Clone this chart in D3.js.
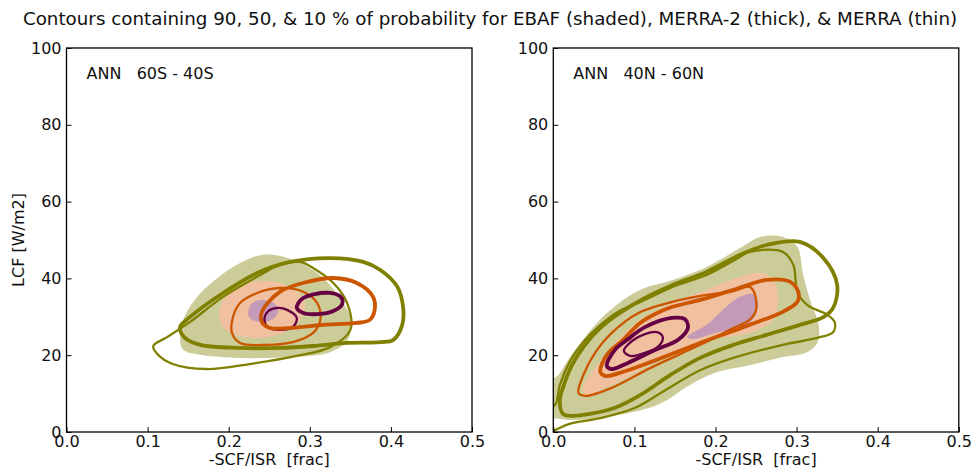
<!DOCTYPE html>
<html><head><meta charset="utf-8">
<script src="https://cdn.jsdelivr.net/npm/d3@7/dist/d3.min.js"></script>
<style>
body{margin:0;background:#fff;}
text{font-family:"DejaVu Sans",sans-serif;fill:#111;}
</style></head>
<body><svg id="chart" width="977" height="471"></svg>
<script>
const title = "Contours containing 90, 50, & 10 % of probability for EBAF (shaded), MERRA-2 (thick), & MERRA (thin)";
const xTicks = [0.0, 0.1, 0.2, 0.3, 0.4, 0.5];
const yTicks = [0, 20, 40, 60, 80, 100];
const panelLabels = ["ANN   60S - 40S", "ANN   40N - 60N"];
const xLabel = "-SCF/ISR  [frac]";
const yLabel = "LCF [W/m2]";

// ---- Left panel (60S - 40S) ----
const L_ebaf90 = [[0.140,24.0],[0.144,29.2],[0.158,34.4],[0.183,39.6],[0.214,44.0],[0.241,46.1],[0.269,45.6],[0.294,43.5],[0.319,39.6],[0.337,34.9],[0.350,29.7],[0.347,24.0],[0.325,20.8],[0.276,19.5],[0.214,19.3],[0.165,20.1],[0.144,21.4]];
const L_ebaf50 = [[0.188,30.5],[0.195,34.9],[0.214,38.3],[0.239,39.3],[0.263,38.8],[0.285,36.5],[0.294,33.1],[0.288,29.2],[0.269,26.0],[0.239,24.5],[0.208,25.3],[0.192,27.6]];
const L_ebaf10 = [[0.224,31.3],[0.229,33.6],[0.241,34.4],[0.256,33.6],[0.261,31.3],[0.253,29.2],[0.239,28.6],[0.226,29.7]];
const L_m2_90 = [[0.140,27.3],[0.152,29.9],[0.193,36.2],[0.235,41.4],[0.276,44.3],[0.325,45.3],[0.366,44.3],[0.387,42.2],[0.408,37.8],[0.415,32.6],[0.414,27.9],[0.403,24.0],[0.387,23.4],[0.346,23.2],[0.304,22.4],[0.263,21.9],[0.214,21.9],[0.165,22.7],[0.146,24.5]];
const L_m2_50 = [[0.241,31.3],[0.263,36.5],[0.297,39.1],[0.329,40.1],[0.358,38.8],[0.378,35.2],[0.380,31.8],[0.374,29.2],[0.358,28.4],[0.316,27.9],[0.276,27.1],[0.251,27.1],[0.241,28.6]];
const L_m2_10 = [[0.284,32.3],[0.290,34.6],[0.306,35.9],[0.325,36.2],[0.338,35.2],[0.340,33.3],[0.329,31.5],[0.310,30.7],[0.292,31.0]];
const L_m_90 = [[0.107,22.4],[0.124,24.7],[0.152,28.6],[0.193,35.2],[0.235,40.4],[0.263,43.5],[0.288,44.3],[0.304,42.7],[0.329,38.8],[0.346,33.6],[0.350,26.6],[0.325,22.1],[0.284,19.8],[0.226,17.7],[0.173,16.4],[0.131,17.7],[0.112,20.3]];
const L_m_50 = [[0.214,33.6],[0.235,36.2],[0.263,37.5],[0.292,36.5],[0.309,33.6],[0.313,29.2],[0.304,25.8],[0.279,23.4],[0.247,22.7],[0.214,23.2],[0.204,25.8],[0.205,29.7]];
const L_m_10 = [[0.244,29.2],[0.248,31.3],[0.260,32.3],[0.272,31.8],[0.284,29.7],[0.279,27.3],[0.263,26.6],[0.248,27.3]];

// ---- Right panel (40N - 60N) ----
const R_ebaf90 = [[-0.016,13.5],[0.002,14.1],[0.024,20.6],[0.066,31.0],[0.107,37.0],[0.147,39.6],[0.189,43.0],[0.234,48.4],[0.255,50.8],[0.283,50.8],[0.301,48.2],[0.308,41.1],[0.317,34.1],[0.327,28.1],[0.326,23.4],[0.313,20.8],[0.283,19.5],[0.242,17.4],[0.202,15.6],[0.168,12.2],[0.128,7.0],[0.066,3.9],[0.024,3.1],[0.002,3.6],[-0.016,3.6]];
const R_ebaf50 = [[0.036,10.9],[0.066,20.6],[0.107,29.2],[0.147,33.6],[0.189,37.0],[0.230,40.4],[0.256,41.4],[0.271,39.8],[0.277,34.4],[0.271,29.2],[0.242,25.8],[0.189,24.0],[0.147,20.6],[0.107,16.1],[0.066,11.7],[0.042,9.6]];
const R_ebaf10 = [[0.165,24.7],[0.189,27.9],[0.209,31.8],[0.230,35.2],[0.246,35.9],[0.252,33.6],[0.248,29.9],[0.236,27.6],[0.200,25.8],[0.172,24.2]];
const R_m2_90 = [[0.012,4.7],[0.008,8.3],[0.013,12.2],[0.023,17.4],[0.038,22.4],[0.058,27.1],[0.082,31.0],[0.113,34.9],[0.147,38.3],[0.189,41.7],[0.230,46.1],[0.263,48.7],[0.304,49.5],[0.333,45.3],[0.350,38.3],[0.345,32.3],[0.333,29.9],[0.304,27.9],[0.263,25.3],[0.222,22.7],[0.181,19.3],[0.144,14.8],[0.107,9.6],[0.076,6.3],[0.045,4.7],[0.023,4.2]];
const R_m2_50 = [[0.058,15.6],[0.066,20.1],[0.086,24.0],[0.107,28.4],[0.128,31.0],[0.147,32.6],[0.181,34.4],[0.222,37.0],[0.263,39.6],[0.292,39.1],[0.302,36.5],[0.301,33.9],[0.283,31.3],[0.242,27.9],[0.181,23.2],[0.120,18.2],[0.082,15.4],[0.064,14.6]];
const R_m2_10 = [[0.066,17.2],[0.076,21.4],[0.091,24.0],[0.113,27.3],[0.146,29.7],[0.162,29.4],[0.166,27.1],[0.154,24.0],[0.126,21.4],[0.092,18.0],[0.072,16.4]];
const R_m_90 = [[-0.016,5.2],[0.002,7.0],[0.008,12.2],[0.020,18.2],[0.036,23.2],[0.055,27.3],[0.080,31.3],[0.113,34.4],[0.147,37.8],[0.189,40.9],[0.224,44.8],[0.242,46.9],[0.283,46.9],[0.296,43.5],[0.301,36.5],[0.313,33.1],[0.338,30.5],[0.347,28.6],[0.345,26.0],[0.325,24.5],[0.283,22.7],[0.222,19.3],[0.181,16.1],[0.138,10.9],[0.101,6.3],[0.058,3.6],[0.020,2.1],[0.002,0.5],[-0.010,-0.5],[-0.020,2.0]];
const R_m_50 = [[0.031,10.2],[0.037,14.8],[0.052,20.8],[0.072,25.8],[0.105,31.0],[0.147,33.9],[0.181,35.4],[0.222,36.7],[0.242,37.8],[0.248,36.2],[0.250,31.8],[0.242,29.2],[0.222,27.1],[0.181,22.7],[0.120,16.7],[0.072,11.5],[0.039,9.4]];
const R_m_10 = [[0.087,21.1],[0.097,23.7],[0.113,25.5],[0.128,26.0],[0.135,24.7],[0.130,22.4],[0.113,20.6],[0.095,19.8]];

const panelsData = [
  {label: panelLabels[0], ebaf: [L_ebaf90, L_ebaf50, L_ebaf10], m2: [L_m2_90, L_m2_50, L_m2_10], m: [L_m_90, L_m_50, L_m_10]},
  {label: panelLabels[1], ebaf: [R_ebaf90, R_ebaf50, R_ebaf10], m2: [R_m2_90, R_m2_50, R_m2_10], m: [R_m_90, R_m_50, R_m_10]}
];

const fillColors = ["#cccc99", "#f0c0a0", "#c39bb8"];
const lineColors = ["#808000", "#cc5500", "#660044"];

const svg = d3.select("#chart");
const W = 405.5, H = 384;
const offsets = [[66.5, 48], [553.3, 48]];
const FS = "16px";

svg.append("text").attr("x", 490).attr("y", 25).attr("text-anchor", "middle")
  .style("font-size", "18.3px").text(title);

panelsData.forEach((p, i) => {
  const g = svg.append("g").attr("transform", `translate(${offsets[i][0]},${offsets[i][1]})`);
  const x = d3.scaleLinear().domain([0, 0.5]).range([0, W]);
  const y = d3.scaleLinear().domain([0, 100]).range([H, 0]);
  const clipId = "clip" + i;
  g.append("clipPath").attr("id", clipId).append("rect").attr("width", W).attr("height", H);
  const line = d3.line().x(d => x(d[0])).y(d => y(d[1])).curve(d3.curveCatmullRomClosed.alpha(0.5));
  const plot = g.append("g").attr("clip-path", `url(#${clipId})`);
  p.ebaf.forEach((c, k) => {
    plot.append("path").attr("d", line(c)).attr("fill", fillColors[k]).attr("stroke", "none");
  });
  p.m.forEach((c, k) => {
    plot.append("path").attr("d", line(c)).attr("fill", "none").attr("stroke", lineColors[k]).attr("stroke-width", 2.3);
  });
  p.m2.forEach((c, k) => {
    plot.append("path").attr("d", line(c)).attr("fill", "none").attr("stroke", lineColors[k]).attr("stroke-width", 3.8);
  });
  // axes (ticks inward)
  const xAxis = d3.axisBottom(x).tickValues(xTicks).tickFormat(d3.format(".1f")).tickSizeInner(-5).tickSizeOuter(0);
  const yAxis = d3.axisLeft(y).tickValues(yTicks).tickFormat(d3.format("d")).tickSizeInner(-5).tickSizeOuter(0);
  const gx = g.append("g").attr("transform", `translate(0,${H})`).call(xAxis);
  const gy = g.append("g").call(yAxis);
  [gx, gy].forEach(a => {
    a.select(".domain").remove();
    a.selectAll("line").attr("stroke", "#000").attr("stroke-width", 1);
    a.selectAll("text").style("font-size", FS).style("font-family", "DejaVu Sans, sans-serif").attr("fill", "#111");
  });
  gy.selectAll("text").attr("x", -5);
  gx.selectAll("text").attr("y", 4);
  g.append("rect").attr("width", W).attr("height", H).attr("fill", "none").attr("stroke", "#000").attr("stroke-width", 1.3);
  g.append("text").attr("x", 20).attr("y", 31).style("font-size", FS).style("white-space", "pre").text(p.label);
  g.append("text").attr("x", W / 2).attr("y", H + 33).attr("text-anchor", "middle").style("font-size", FS).style("white-space", "pre").text(xLabel);
  if (i === 0) {
    g.append("text").attr("transform", `translate(-43,${H / 2}) rotate(-90)`).attr("text-anchor", "middle").style("font-size", FS).text(yLabel);
  }
});
</script></body></html>
